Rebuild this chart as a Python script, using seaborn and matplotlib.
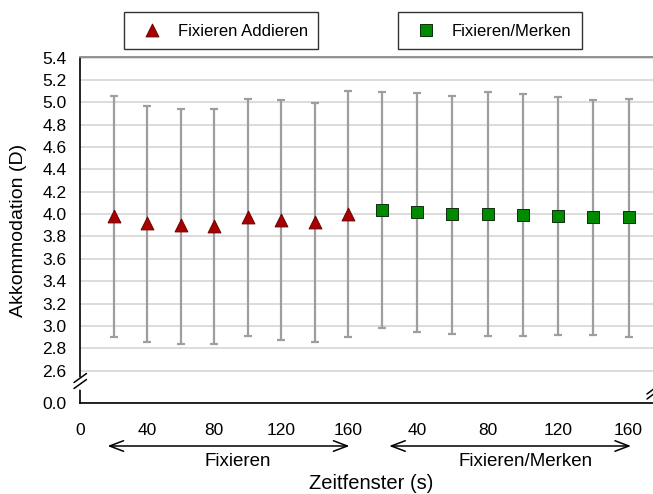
import numpy as np
import pandas as pd
import matplotlib
matplotlib.use("Agg")
import matplotlib.pyplot as plt
import seaborn as sns
from matplotlib.transforms import blended_transform_factory
from matplotlib.lines import Line2D

# ---------------- data ----------------
times = [20, 40, 60, 80, 100, 120, 140, 160]
add_mean = [3.98, 3.92, 3.90, 3.89, 3.97, 3.95, 3.93, 4.00]
add_upper = [5.06, 4.97, 4.94, 4.94, 5.03, 5.02, 4.99, 5.10]
add_lower = [2.90, 2.86, 2.84, 2.835, 2.91, 2.875, 2.86, 2.905]
merk_mean = [4.04, 4.02, 4.00, 4.00, 3.99, 3.98, 3.97, 3.97]
merk_upper = [5.09, 5.08, 5.06, 5.09, 5.07, 5.05, 5.02, 5.03]
merk_lower = [2.985, 2.95, 2.93, 2.91, 2.91, 2.92, 2.92, 2.905]
series_names = ["Fixieren Addieren", "Fixieren/Merken"]
block_labels = ["Fixieren", "Fixieren/Merken"]
y_ticks = [0.0, 2.6, 2.8, 3.0, 3.2, 3.4, 3.6, 3.8, 4.0, 4.2, 4.4, 4.6, 4.8, 5.0, 5.2, 5.4]

offset = 160  # second block follows the first on the time axis
df = pd.concat([
    pd.DataFrame({"Aufgabe": series_names[0], "t": times, "pos": times,
                  "mean": add_mean, "upper": add_upper, "lower": add_lower}),
    pd.DataFrame({"Aufgabe": series_names[1], "t": times,
                  "pos": [t + offset for t in times],
                  "mean": merk_mean, "upper": merk_upper, "lower": merk_lower}),
], ignore_index=True)

# ---------------- style ----------------
sns.set_theme(style="white")
plt.rcParams["font.family"] = ["Liberation Sans", "DejaVu Sans"]
plt.rcParams["text.color"] = "black"
plt.rcParams["axes.labelcolor"] = "black"
plt.rcParams["xtick.color"] = "black"
plt.rcParams["ytick.color"] = "black"

W, H = 653, 494
fig = plt.figure(figsize=(W / 100, H / 100), dpi=100)
ax_left, ax_right, ax_top, ax_bot = 80, 653, 57.5, 403.3
ax = fig.add_axes([ax_left / W, 1 - ax_bot / H, (ax_right - ax_left) / W, (ax_bot - ax_top) / H])

# broken axes via function scales
r = 1.0495
def xf(u):
    u = np.asarray(u, dtype=float)
    return np.where(u <= 180, u, 180 + (u - 180) * r)
def xi(t):
    t = np.asarray(t, dtype=float)
    return np.where(t <= 180, t, 180 + (t - 180) / r)

k = 0.1123
def yf(v):
    v = np.asarray(v, dtype=float)
    return np.where(v >= 2.6, v, 2.6 - (2.6 - v) * k)
def yi(t):
    t = np.asarray(t, dtype=float)
    return np.where(t >= 2.6, t, 2.6 - (2.6 - t) / k)

ax.set_xscale("function", functions=(xf, xi))
ax.set_yscale("function", functions=(yf, yi))

# error bars
for name in series_names:
    d = df[df["Aufgabe"] == name]
    ax.errorbar(d["pos"], d["mean"],
                yerr=[d["mean"] - d["lower"], d["upper"] - d["mean"]],
                fmt="none", ecolor="#9E9E9E", elinewidth=1.6,
                capsize=3.2, capthick=1.6, zorder=2)

styles = {
    series_names[0]: dict(marker="^", color="#A80000", edgecolor="#6A0000", s=85),
    series_names[1]: dict(marker="s", color="#008A00", edgecolor="#0E2E0E", s=68),
}
for name in series_names:
    d = df[df["Aufgabe"] == name]
    st = styles[name]
    sns.scatterplot(data=d, x="pos", y="mean", ax=ax, marker=st["marker"],
                    color=st["color"], edgecolor=st["edgecolor"], linewidth=0.7,
                    s=st["s"], label=name, legend=False, zorder=3)

# axes limits, ticks
ax.set_xlim(0, 333.9)
ax.set_ylim(0, 5.4)
xt = list(range(0, 321, 20))
xl = [(str(p if p <= offset else p - offset) if p % 40 == 0 else "") for p in xt]
ax.set_xticks(xt)
ax.set_xticklabels(xl)
ax.set_yticks(y_ticks)
ax.set_yticklabels([f"{v:.1f}" for v in y_ticks])
ax.tick_params(axis="x", direction="out", length=4, width=1.1, pad=10.5, labelsize=12.5)
ax.tick_params(axis="y", direction="out", length=4.3, width=1.1, pad=5.5, labelsize=12.5)
ax.minorticks_off()

ax.yaxis.grid(True, color="#D6D6D6", lw=1.2)
ax.xaxis.grid(False)
ax.set_axisbelow(True)

for sp in ["left", "bottom"]:
    ax.spines[sp].set_color("black")
    ax.spines[sp].set_linewidth(1.2)
ax.spines["top"].set_color("#8A8A8A")
ax.spines["top"].set_linewidth(1.3)
ax.spines["right"].set_visible(False)

# axis labels
ax.set_xlabel("Zeitfenster (s)", fontsize=14.5)
ax.xaxis.label.set_verticalalignment("baseline")
ax.xaxis.set_label_coords((371 - ax_left) / (ax_right - ax_left), (ax_bot - 489) / (ax_bot - ax_top))
ax.set_ylabel("Akkommodation (D)", fontsize=14)
ax.yaxis.label.set_verticalalignment("center")
ax.yaxis.set_label_coords((18.5 - ax_left) / (ax_right - ax_left), (ax_bot - 230) / (ax_bot - ax_top))

# block arrows and labels under the axis
tr = blended_transform_factory(ax.transData, fig.transFigure)
y_arrow = 1 - 446 / H
for (a, b) in [(16.4, 160.6), (184.1, 321.4)]:
    ax.annotate("", xy=(b, y_arrow), xytext=(a, y_arrow), xycoords=tr, textcoords=tr,
                annotation_clip=False,
                arrowprops=dict(arrowstyle="<->,head_length=1.0,head_width=0.38",
                                mutation_scale=10, lw=1.1, color="black",
                                shrinkA=0, shrinkB=0))
y_lab = 1 - 465.7 / H
ax.text(94, y_lab, block_labels[0], transform=tr, ha="center", va="baseline", fontsize=13.5)
ax.text(261.4, y_lab, block_labels[1], transform=tr, ha="center", va="baseline", fontsize=13.5)

# axis break marks
def fline(xs, ys, **kw):
    fig.add_artist(Line2D([x / W for x in xs], [1 - y / H for y in ys],
                          transform=fig.transFigure, **kw))

fline([80, 80], [378.5, 386.5], color="white", lw=3.5, zorder=10)
fline([74, 86.5], [382.5, 373.5], color="black", lw=1.1, zorder=11)
fline([74, 86.5], [388.5, 379.5], color="black", lw=1.1, zorder=11)
fline([647, 659], [394, 385], color="black", lw=1.1, zorder=11)
fline([647, 659], [399, 390], color="black", lw=1.1, zorder=11)

# legends (two boxed entries above the plot)
handles, labels = ax.get_legend_handles_labels()
leg_x = [124, 398]
for h, l, lx in zip(handles, labels, leg_x):
    leg = fig.legend([h], [l], loc="upper left", bbox_to_anchor=(lx / W, 1 - 12 / H),
                     bbox_transform=fig.transFigure, borderaxespad=0, fontsize=12,
                     frameon=True, fancybox=False, edgecolor="black",
                     borderpad=0.62, handlelength=2.16, handletextpad=0.45,
                     handleheight=1.0, scatterpoints=1)
    leg.get_frame().set_linewidth(1.0)
    leg.get_frame().set_facecolor("white")

fig.savefig("out.png", dpi=100)
